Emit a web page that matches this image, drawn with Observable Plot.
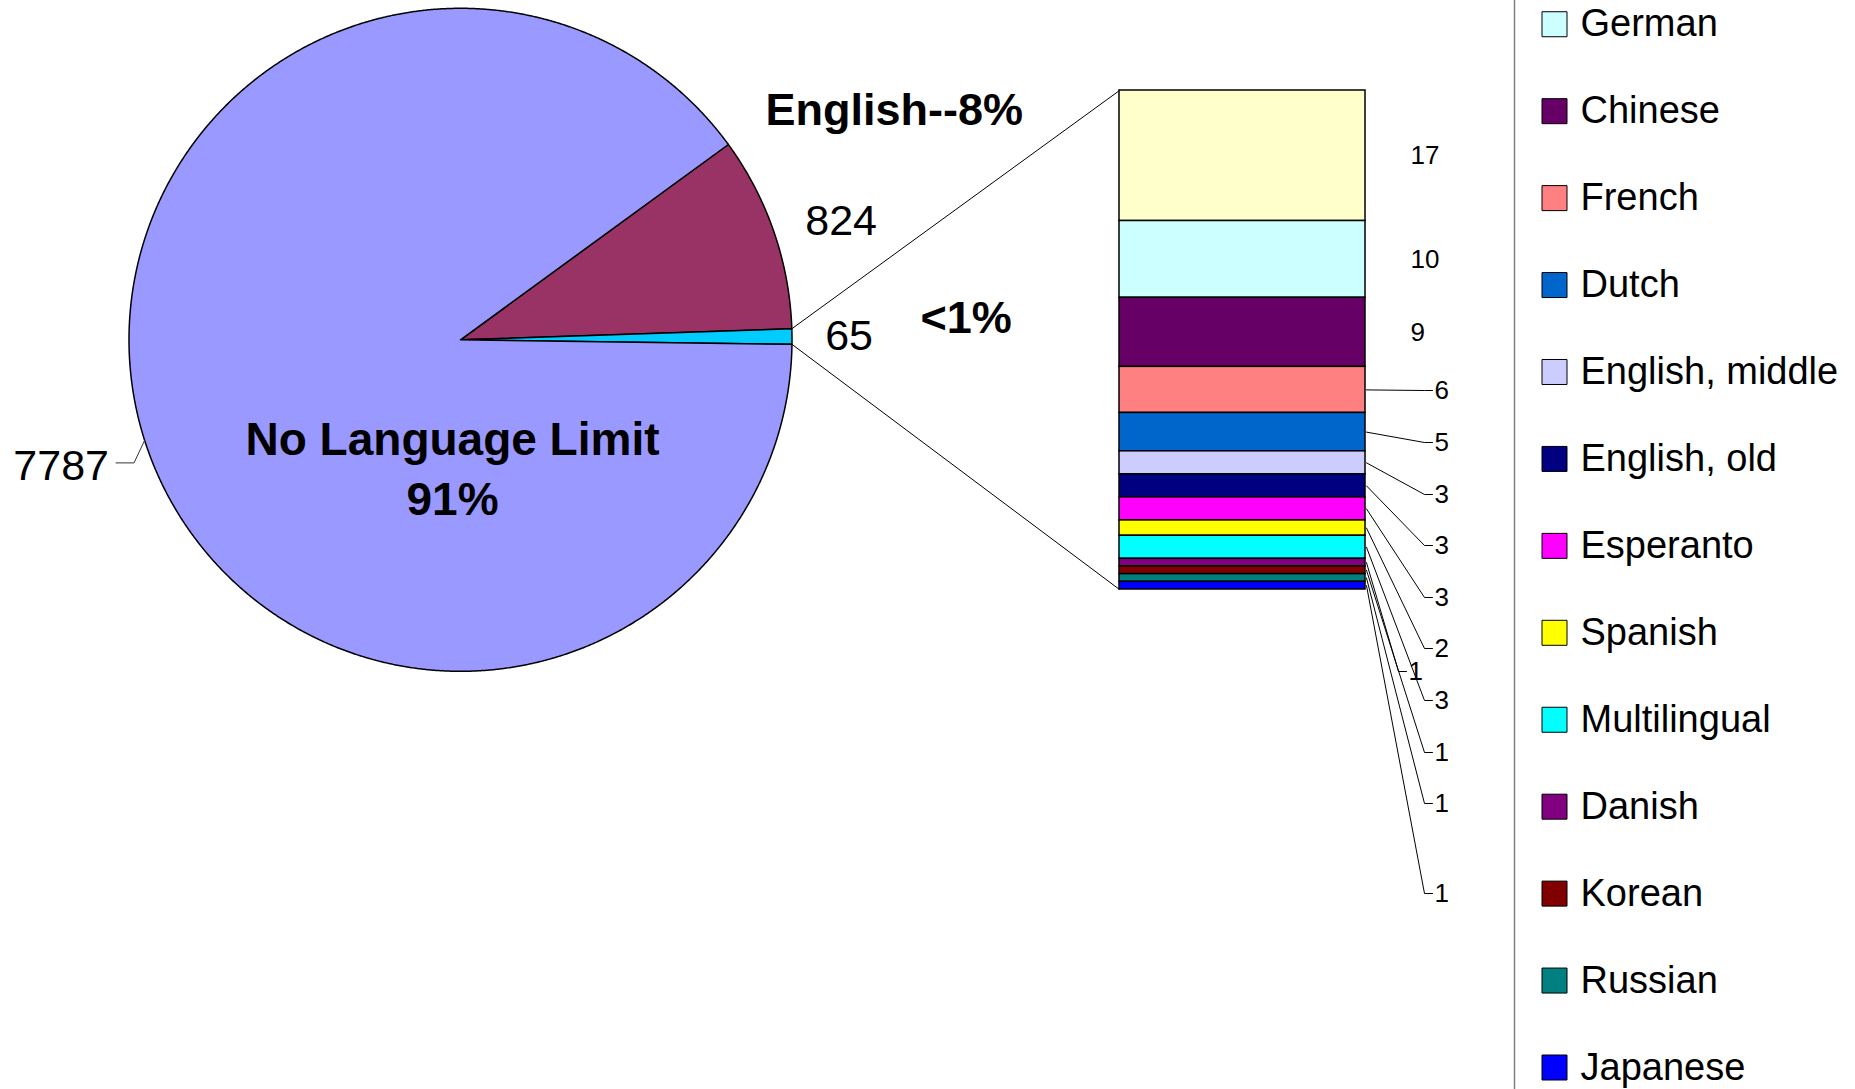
<!DOCTYPE html>
<html>
<head>
<meta charset="utf-8">
<script src="https://cdn.jsdelivr.net/npm/d3@7"></script>
<script src="https://cdn.jsdelivr.net/npm/@observablehq/plot@0.6"></script>
<style>
  html, body { margin: 0; padding: 0; background: #ffffff; overflow: hidden; }
  #chart { position: relative; width: 1855px; height: 1089px; color: #000; font-family: "Liberation Sans", Arial, sans-serif; }
  #chart > svg { position: absolute; left: 0; top: 0; }
</style>
</head>
<body>
<div id="chart"></div>
<script>
// ---------------- DATA ----------------
const pieCategories = ["English", "Other languages", "No Language Limit"];
const pieValues = [824, 65, 7787];
const pieColors = ["#993366", "#00CCFF", "#9999FF"];
const pieCallouts = ["English--8%", "<1%", "No Language Limit\n91%"];

const smallLanguages = ["Other", "German", "Chinese", "French", "Dutch", "English, middle", "English, old",
  "Esperanto", "Spanish", "Multilingual", "Danish", "Korean", "Russian", "Japanese"];
const smallValues = [17, 10, 9, 6, 5, 3, 3, 3, 2, 3, 1, 1, 1, 1];
const smallColors = ["#FFFFCC", "#CCFFFF", "#660066", "#FF8080", "#0066CC", "#CCCCFF", "#000080",
  "#FF00FF", "#FFFF00", "#00FFFF", "#800080", "#800000", "#008080", "#0000FF"];

// ---------------- LAYOUT ----------------
const W = 1855, H = 1089;
const FONT = "'Liberation Sans', Arial, sans-serif";
const pieLayout = {cx: 460, cy: 339.3, r: 331.5, startDeg: 53.9, labelRadius: 1.1};
const barLayout = {x0: 1119, x1: 1365, top: 90, bottom: 589, directLabelDx: 45, minDirectHeight: 60};
const leaderSlots = [
  {y: 390}, {y: 442}, {y: 494}, {y: 545}, {y: 597}, {y: 648}, {y: 700},
  {y: 671, tickX: 1398}, {y: 752}, {y: 803}, {y: 893}
];
const leaderTickX = 1424;
const legendLayout = {border: 1514, swatchX: 1554, swatch: 25, textX: 1580, firstY: -63.2, lastY: 1067};
const calloutPos = [{x: 765, y: 110, size: 45}, {x: 920, y: 318, size: 45}, {dx: -8, dy: 126, size: 46}];

const baseStyle = {background: "none", overflow: "visible", fontFamily: FONT, color: "#000"};
const identityX = {domain: [0, W], range: [0, W], axis: null};
const identityY = {domain: [0, H], range: [0, H], axis: null};

// ---------------- PIE (unit-circle coordinates) ----------------
const pieX = {domain: [-pieLayout.cx / pieLayout.r, (W - pieLayout.cx) / pieLayout.r], range: [0, W], axis: null};
const pieY = {domain: [-(H - pieLayout.cy) / pieLayout.r, pieLayout.cy / pieLayout.r], range: [H, 0], axis: null};
const sx = Plot.scale({x: pieX});
const sy = Plot.scale({y: pieY});
const start = pieLayout.startDeg * Math.PI / 180;
const arcs = d3.pie().sort(null).value(d => d).startAngle(start).endAngle(start + 2 * Math.PI)(pieValues);

function slicePoints(a, i) {
  const pts = [{i, x: 0, y: 0}];
  const n = Math.max(2, Math.ceil((a.endAngle - a.startAngle) / (Math.PI / 720)));
  for (let k = 0; k <= n; k++) {
    const t = a.startAngle + (a.endAngle - a.startAngle) * k / n;
    pts.push({i, x: Math.sin(t), y: Math.cos(t)});
  }
  pts.push({i, x: 0, y: 0});
  return pts;
}

const pieMarks = arcs.map((a, i) => Plot.line(slicePoints(a, i), {
  x: "x", y: "y", fill: pieColors[i], stroke: "#000", strokeWidth: 1.5, strokeLinejoin: "round"
}));

const piePlot = Plot.plot({
  width: W, height: H, margin: 0, x: pieX, y: pieY, style: baseStyle, marks: pieMarks
});

// ---------------- STACKED BAR ----------------
const total = d3.sum(smallValues);
const barYOpts = {domain: [0, total], range: [barLayout.bottom, barLayout.top], axis: null};
const barData = smallLanguages.map((name, i) => ({name, value: smallValues[i]}));
const barPlot = Plot.plot({
  width: W, height: H, margin: 0,
  x: {domain: [0, 1], range: [barLayout.x0, barLayout.x1], axis: null},
  y: barYOpts,
  color: {domain: smallLanguages, range: smallColors},
  style: baseStyle,
  marks: [
    Plot.rect(barData, Plot.stackY({
      x1: () => 0, x2: () => 1, y: "value", fill: "name",
      stroke: "#000", strokeWidth: 1.5, reverse: true
    }))
  ]
});

// ---------------- ANNOTATIONS (pixel frame) ----------------
const by = Plot.scale({y: barYOpts});
const cum = d3.cumsum(smallValues);
const segments = smallValues.map((v, i) => {
  const above = cum[i] - v;
  const yTop = by.apply(total - above);
  const yBot = by.apply(total - above - v);
  return {name: smallLanguages[i], value: v, mid: (yTop + yBot) / 2, h: yBot - yTop};
});
const direct = segments.filter(s => s.h >= barLayout.minDirectHeight);
const leadered = segments.filter(s => s.h < barLayout.minDirectHeight);
const leaderLines = [];
const leaderLabels = [];
leadered.forEach((s, j) => {
  const slot = leaderSlots[j];
  const tx = slot.tickX ?? leaderTickX;
  leaderLines.push({j, x: barLayout.x1 + 1, y: s.mid});
  leaderLines.push({j, x: tx, y: slot.y});
  leaderLines.push({j, x: tx + 8, y: slot.y});
  leaderLabels.push({x: tx + 10, y: slot.y, text: String(s.value)});
});

// connectors from the "<1%" slice edges to the bar corners
const small = arcs[1];
const connectors = [
  {x1: sx.apply(Math.sin(small.startAngle)), y1: sy.apply(Math.cos(small.startAngle)), x2: barLayout.x0, y2: by.apply(total)},
  {x1: sx.apply(Math.sin(small.endAngle)), y1: sy.apply(Math.cos(small.endAngle)), x2: barLayout.x0, y2: by.apply(0)}
];

// pie value labels
const pieValueLabels = arcs.map((a, i) => {
  const m = (a.startAngle + a.endAngle) / 2;
  const lx = sx.apply(pieLayout.labelRadius * Math.sin(m));
  const lyy = sy.apply(pieLayout.labelRadius * Math.cos(m));
  const left = Math.sin(m) < 0;
  return {
    text: String(pieValues[i]), left,
    x: left ? lx - 4 : lx, y: left ? lyy + 15.5 : lyy,
    ax: sx.apply(Math.sin(m)), ay: sy.apply(Math.cos(m))
  };
});
const pieLeaders = [];
pieValueLabels.forEach((d, i) => {
  if (!d.left) return;
  pieLeaders.push({i, x: d.ax, y: d.ay});
  pieLeaders.push({i, x: d.x + 25, y: d.y - 3});
  pieLeaders.push({i, x: d.x + 7, y: d.y - 3});
});

const callouts = pieCallouts.map((t, i) => {
  const p = calloutPos[i];
  return p.x != null ? {text: t, x: p.x, y: p.y, size: p.size}
    : {text: t, x: pieLayout.cx + p.dx, y: pieLayout.cy + p.dy, size: p.size};
});

const annPlot = Plot.plot({
  width: W, height: H, margin: 0, x: identityX, y: identityY, style: baseStyle,
  marks: [
    Plot.link(connectors, {x1: "x1", y1: "y1", x2: "x2", y2: "y2", stroke: "#000", strokeWidth: 1}),
    Plot.line(leaderLines, {x: "x", y: "y", z: "j", stroke: "#000", strokeWidth: 1}),
    Plot.line(pieLeaders, {x: "x", y: "y", z: "i", stroke: "#333", strokeWidth: 1}),
    Plot.text(leaderLabels, {x: "x", y: "y", text: "text", textAnchor: "start", fontSize: 26, fill: "#000"}),
    Plot.text(direct, {x: () => barLayout.x1 + barLayout.directLabelDx, y: "mid", text: d => String(d.value), textAnchor: "start", fontSize: 26, fill: "#000"}),
    Plot.text(pieValueLabels.filter(d => !d.left), {x: "x", y: "y", text: "text", textAnchor: "start", fontSize: 43, fill: "#000"}),
    Plot.text(pieValueLabels.filter(d => d.left), {x: "x", y: "y", text: "text", textAnchor: "end", fontSize: 43, fill: "#000"}),
    Plot.text(callouts.slice(0, 2), {x: "x", y: "y", text: "text", textAnchor: "start", fontSize: 45, fontWeight: "bold", fill: "#000"}),
    Plot.text(callouts.slice(2), {x: "x", y: "y", text: "text", textAnchor: "middle", fontSize: 46, fontWeight: "bold", lineHeight: 1.3, fill: "#000"})
  ]
});

// ---------------- LEGEND ----------------
const legendY = {type: "point", domain: smallLanguages, range: [legendLayout.firstY, legendLayout.lastY], padding: 0, round: false, axis: null};
const lys = Plot.scale({y: legendY});
const legendData = smallLanguages.filter(n => lys.apply(n) - legendLayout.swatch / 2 >= 0).map(name => ({name}));
const legendPlot = Plot.plot({
  width: W, height: H, margin: 0, x: identityX, y: legendY,
  color: {domain: smallLanguages, range: smallColors},
  style: baseStyle,
  marks: [
    Plot.ruleX([legendLayout.border], {stroke: "#808080", strokeWidth: 1.5}),
    Plot.dot(legendData, {x: () => legendLayout.swatchX, y: "name", symbol: "square",
      r: legendLayout.swatch / Math.sqrt(Math.PI), fill: "name", stroke: "#000", strokeWidth: 1}),
    Plot.text(legendData, {x: () => legendLayout.textX, y: "name", text: "name", textAnchor: "start", fontSize: 38, fill: "#000"})
  ]
});

const chart = document.getElementById("chart");
[piePlot, barPlot, annPlot, legendPlot].forEach(p => chart.appendChild(p));
</script>
</body>
</html>
